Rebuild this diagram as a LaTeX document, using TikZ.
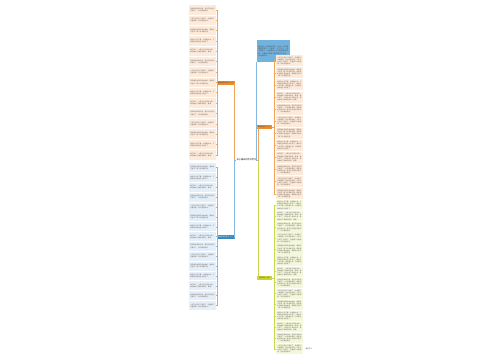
\documentclass[tikz,border=0pt]{standalone}
\usepackage{fontspec}
\newfontfamily\cjk{Noto Sans CJK SC}
\usetikzlibrary{positioning}
\XeTeXlinebreaklocale "zh"
\XeTeXlinebreakskip=0pt plus 0.5pt

\definecolor{orangeleaf}{HTML}{FCEBDB}
\definecolor{blueleaf}{HTML}{E4EFF9}
\definecolor{greenleaf}{HTML}{F3F8DC}
\definecolor{orangeline}{HTML}{F2A45A}
\definecolor{blueline}{HTML}{86B9DD}
\definecolor{greenline}{HTML}{C9D84E}
\definecolor{orangelab}{HTML}{EB8C2C}
\definecolor{bluelab}{HTML}{3C88BC}
\definecolor{greenlab}{HTML}{C8D533}
\definecolor{topbox}{HTML}{72B2DE}
\definecolor{leaftext}{HTML}{6F645C}

\newcommand{\leaftxt}[1]{%
  \ifcase#1 春天来了，小草从地下探出头来，柳树抽出了嫩绿的新芽，真美。%
  \or 我和妈妈来到公园，看见花坛里的花都开了，红的黄的紫的。%
  \or 小燕子从南方飞回来了，在屋檐下忙着搭窝，叽叽喳喳地叫。%
  \or 田野里的油菜花金灿灿的，蜜蜂在花丛中飞来飞去采着花蜜。%
  \or 春雨沙沙地下着，滋润着大地，万物都在悄悄地生长起来了。%
  \fi}

\tikzset{
  leaf/.style={font=\cjk\fontsize{1.6}{2.1}\selectfont, text=leaftext,
    text width=24bp, align=left, inner sep=1.2bp, anchor=north west},
  branch/.style={font=\cjk\fontsize{1.6}{2}\selectfont, inner sep=0.8bp,
    anchor=west},
  link/.style={line width=0.5bp}
}

\begin{document}
\begin{tikzpicture}[x=1bp, y=-1bp]
  \useasboundingbox[fill=white] (0,0) rectangle (500,360);
  % ---------------------------------------------------------------- centre
  \node[font=\cjk\fontsize{2.2}{2.6}\selectfont, inner sep=0.8bp] (root) at (246.5,160) {关于春天的作文范文};
  % ---------------------------------------------------------------- left, orange
  \node[branch, fill=orangelab, text=black!75] (lbA) at (217,83) {春天的作文范文（一）};
  \foreach \i in {1,...,15} {
    \pgfmathtruncatemacro\k{mod(\i,5)}
    \node[leaf, fill=orangeleaf, minimum height=9.4bp] (lo\i) at (189,{5+(\i-1)*10.35}) {\leaftxt{\k}};
    \draw[link, orangeline] (lo\i.east) -- ++(1.2,0) |- (lbA.west);
  }
  % ---------------------------------------------------------------- left, blue
  \node[branch, fill=bluelab, text=white] (lbB) at (217,237) {春天的作文范文（二）};
  \foreach \i in {1,...,15} {
    \pgfmathtruncatemacro\k{mod(\i+2,5)}
    \node[leaf, fill=blueleaf, minimum height=8.9bp] (lb\i) at (189,{163+(\i-1)*9.85}) {\leaftxt{\k}};
    \draw[link, blueline] (lb\i.east) -- ++(1.2,0) |- (lbB.west);
  }
  \draw[link, orangeline] (root.west) -- ++(-1.5,0) |- (lbA.east);
  \draw[link, blueline] (root.west) -- ++(-1.5,0) |- (lbB.east);
  % ---------------------------------------------------------------- right, top note
  \node[leaf, fill=topbox, text=black!70, text width=30bp, minimum height=22bp,
        font=\cjk\fontsize{1.7}{2.3}\selectfont] (rtop) at (257,40)
    {春天是一个美丽的季节，也是一个充满希望的季节。小草绿了，花儿开了，燕子回来了，到处都是一片生机勃勃的景象。下面是几篇关于春天的作文范文，供大家参考。};
  \draw[link, blueline] (root.east) -- ++(0,0) -| ([xshift=-1bp]rtop.south west);
  % ---------------------------------------------------------------- right, orange
  \node[branch, fill=orangelab, text=black!75] (lbC) at (257,127) {春天的作文（三）};
  \foreach \i in {1,...,12} {
    \pgfmathtruncatemacro\k{mod(\i+1,5)}
    \node[leaf, fill=orangeleaf, minimum height=11bp] (ro\i) at (276,{55+(\i-1)*12.1}) {\leaftxt{\k}\leaftxt{\k}};
    \draw[link, orangeline] (ro\i.west) -- ++(-1.5,0) |- (lbC.east);
  }
  % ---------------------------------------------------------------- right, green
  \node[branch, fill=greenlab, text=black!75] (lbD) at (257,278) {春天的作文（四）};
  \foreach \i in {1,...,14} {
    \pgfmathtruncatemacro\k{mod(\i+3,5)}
    \node[leaf, fill=greenleaf, minimum height=10bp] (gr\i) at (276,{200+(\i-1)*11.05}) {\leaftxt{\k}\leaftxt{\k}};
    \draw[link, greenline] (gr\i.west) -- ++(-1.5,0) |- (lbD.east);
  }
  \draw[link, greenline] (root.east) -- ++(1,0) |- (lbD.west);
  \draw[link, orangeline] (root.east) -- ++(1,0) |- (lbC.west);
  \node[font=\cjk\fontsize{1.6}{2}\selectfont, text=black!70, inner sep=0.5bp, anchor=west] (more) at ([xshift=2bp]gr14.east) {更多范文};
\end{tikzpicture}
\end{document}
